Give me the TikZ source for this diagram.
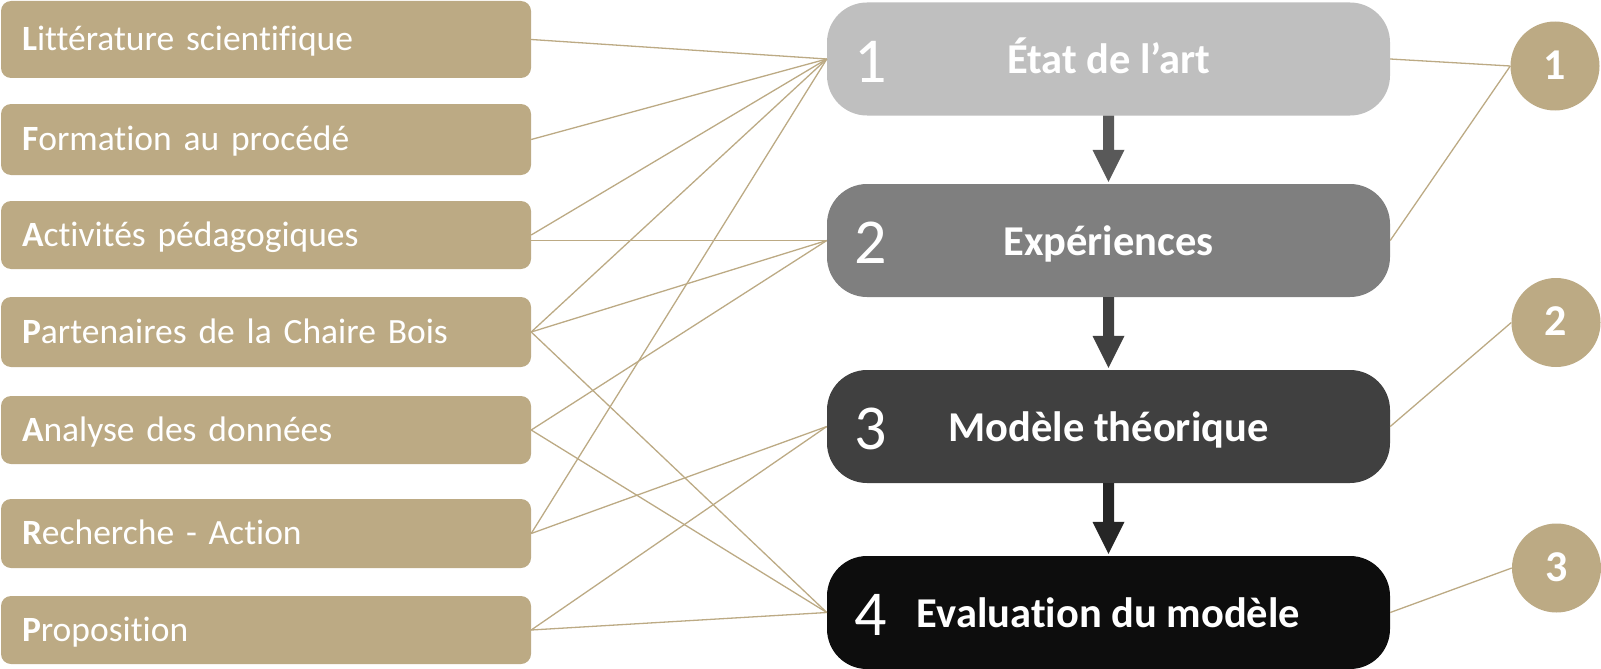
\documentclass[tikz,border=0pt]{standalone}
\usepackage{fontspec}
\setmainfont{Carlito}[Ligatures={NoCommon}]
\usetikzlibrary{calc}
\definecolor{tanc}{HTML}{BCAA84}
\definecolor{boxa}{HTML}{BFBFBF}
\definecolor{boxb}{HTML}{7F7F7F}
\definecolor{boxc}{HTML}{404040}
\definecolor{boxd}{HTML}{0D0D0D}
\definecolor{arra}{HTML}{595959}
\definecolor{arrb}{HTML}{404040}
\definecolor{arrc}{HTML}{262626}
\newcommand\flowarrow[3]{%
  \fill[#3] ($(#1.south)+(-5.5,0)$) -- ($(#1.south)+(5.5,0)$) -- ($(#2.north)+(5.5,-34)$)
    -- ($(#2.north)+(16,-34)$) -- ($(#2.north)+(0,-2)$) -- ($(#2.north)+(-16,-34)$)
    -- ($(#2.north)+(-5.5,-34)$) -- cycle;}
\begin{document}
\begin{tikzpicture}[x=1pt,y=-1pt,
  leftbox/.style={fill=tanc, rounded corners=10pt, inner xsep=21pt, inner ysep=0pt,
    minimum width=530pt, text width=488pt, align=left, text=white,
    font=\fontsize{35.5}{40}\selectfont, text height=22.8pt, text depth=0pt},
  midbox/.style={rounded corners=40pt, minimum width=563pt, minimum height=113pt, inner sep=0pt},
  title/.style={text=white, font=\fontsize{42.5}{48}\selectfont\bfseries, anchor=base, inner sep=0pt},
  num/.style={text=white, font=\fontsize{64}{70}\selectfont, anchor=base west, inner sep=0pt},
  circ/.style={circle, fill=tanc, minimum size=89pt, inner sep=0pt, text=white,
    font=\fontsize{44}{46}\selectfont\bfseries, text height=26pt, text depth=0pt},
  link/.style={draw=tanc, line width=1.3pt}]
\useasboundingbox (0,0) rectangle (1601,669);
% left boxes
\node[leftbox, minimum height=77pt] (l1) at (266,39.5) {\textbf{L}ittérature scientifique};
\node[leftbox, minimum height=71pt] (l2) at (266,139.5) {\textbf{F}ormation au procédé};
\node[leftbox, minimum height=68pt] (l3) at (266,235) {\textbf{A}ctivités pédagogiques};
\node[leftbox, minimum height=70pt] (l4) at (266,332) {\textbf{P}artenaires de la Chaire Bois};
\node[leftbox, minimum height=68pt] (l5) at (266,430) {\textbf{A}nalyse des données};
\node[leftbox, minimum height=69pt] (l6) at (266,533.5) {\textbf{R}echerche - Action};
\node[leftbox, minimum height=68pt] (l7) at (266,630) {\textbf{P}roposition};
% central boxes
\node[midbox, fill=boxa] (A) at (1108.5,59) {};
\node[midbox, fill=boxb] (B) at (1108.5,240.5) {};
\node[midbox, fill=boxc] (C) at (1108.5,426.5) {};
\node[midbox, fill=boxd] (D) at (1108.5,612.5) {};
\node[title] (tA) at ($(A.center)+(0,15)$) {État de l’art};
\node[title] (tB) at ($(B.center)+(0,15)$) {Expériences};
\node[title] (tC) at ($(C.center)+(0,15)$) {Modèle théorique};
\node[title] (tD) at ($(D.center)+(0,15)$) {Evaluation du modèle};
\node[num] (nA) at ($(A.west)+(27,23)$) {1};
\node[num] (nB) at ($(B.west)+(27,23)$) {2};
\node[num] (nC) at ($(C.west)+(27,23)$) {3};
\node[num] (nD) at ($(D.west)+(27,23)$) {4};
% arrows
\flowarrow{A}{B}{arra}
\flowarrow{B}{C}{arrb}
\flowarrow{C}{D}{arrc}
% circles
\node[circ] (c1) at (1555,66) {1};
\node[circ] (c2) at (1556,322.5) {2};
\node[circ] (c3) at (1556.5,568) {3};
% links left
\draw[link] (l1.east) -- (A.west);
\draw[link] (l2.east) -- (A.west);
\draw[link] (l3.east) -- (A.west);
\draw[link] (l3.east |- B.west) -- (B.west);
\draw[link] (l4.east) -- (A.west);
\draw[link] (l4.east) -- (B.west);
\draw[link] (l4.east) -- (D.west);
\draw[link] (l5.east) -- (B.west);
\draw[link] (l5.east) -- (D.west);
\draw[link] (l6.east) -- (A.west);
\draw[link] (l6.east) -- (C.west);
\draw[link] (l7.east) -- (C.west);
\draw[link] (l7.east) -- (D.west);
% links right
\draw[link] (A.east) -- (c1.west);
\draw[link] (B.east) -- (c1.west);
\draw[link] (C.east) -- (c2.west);
\draw[link] (D.east) -- (c3.west);
\end{tikzpicture}
\end{document}
